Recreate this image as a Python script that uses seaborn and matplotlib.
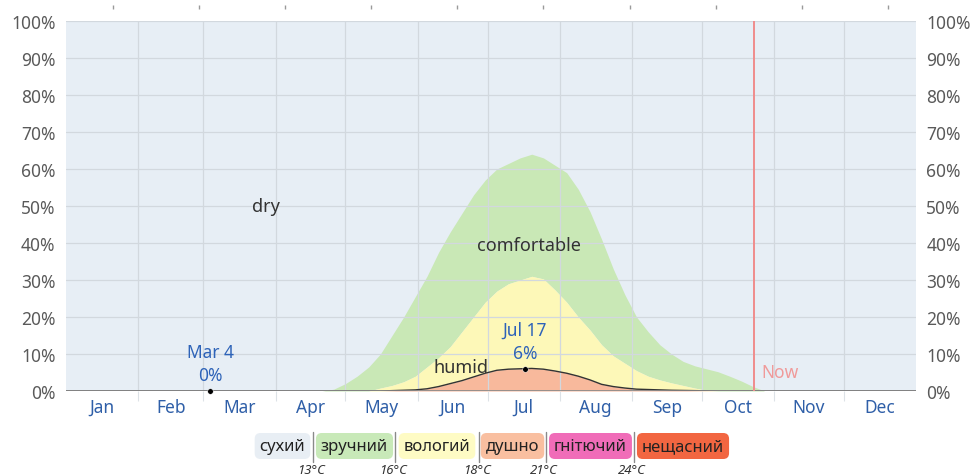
# Humidity comfort levels through the year (stacked areas) with a coloured legend strip

import numpy as np
import pandas as pd
import seaborn as sns
import matplotlib.pyplot as plt
from matplotlib.lines import Line2D


# day of year (0 = Jan 1) and the cumulative band tops, in %
days = [0, 100, 105, 110, 115, 120, 125, 130, 135, 140, 145, 150, 155, 160, 165, 170,
        175, 180, 185, 190, 195, 200, 205, 210, 215, 220, 225, 230, 235, 240, 245, 250,
        255, 260, 265, 270, 275, 280, 285, 290, 295, 300, 305, 365]
# top of the green band (comfortable + humid + muggy)
pct_not_dry = [0, 0, 0, 0, 0.5, 2, 4, 6.5, 10, 15, 20, 25.5, 31, 37.5, 43, 48,
               53, 57, 60, 61.5, 63, 64, 63, 61, 59, 54.5, 48.5, 41, 33, 26, 20, 16,
               12.5, 10, 8, 6.8, 6, 5.2, 4, 2.7, 1.2, 0, 0, 0]
# top of the yellow band (humid + muggy)
pct_humid_or_muggy = [0, 0, 0, 0, 0, 0, 0, 0, 0.8, 1.5, 2.5, 4, 6.5, 9, 12, 16,
                      20, 24, 27, 29, 30, 31, 30.3, 27.3, 24, 20, 16.5, 12.5, 9.5, 7.5, 5.5, 4,
                      3, 2.2, 1.5, 0.8, 0.2, 0, 0, 0, 0, 0, 0, 0]
# muggy or worse (orange band, black line)
pct_muggy = [0, 0, 0, 0, 0, 0, 0, 0, 0, 0.1, 0.2, 0.3, 0.6, 1.2, 2.0, 2.8,
             3.8, 4.8, 5.6, 5.9, 6.0, 6.1, 5.9, 5.4, 4.8, 4.0, 3.0, 1.8, 1.2, 0.8, 0.5, 0.4,
             0.3, 0.2, 0.15, 0.1, 0.05, 0, 0, 0, 0, 0, 0, 0]

month_names = ["Jan", "Feb", "Mar", "Apr", "May", "Jun", "Jul", "Aug", "Sep", "Oct", "Nov", "Dec"]
month_starts = [0, 31, 59, 90, 120, 151, 181, 212, 243, 273, 304, 334, 365]
top_ticks = [20, 57, 94, 131, 168, 205, 242, 279, 316, 353]

hl_days = [62, 197]
hl_vals = [0, 6]
hl_labels = ["Mar 4", "Jul 17"]

now_day = 295.5

legend_names = ["сухий", "зручний", "вологий", "душно", "гнітючий", "нещасний"]
legend_colors = ["#e8eef4", "#c8e9b8", "#fefbc4", "#f9bfa0", "#f06cb8", "#f26641"]
legend_temps = ["13°C", "16°C", "18°C", "21°C", "24°C"]

df = pd.DataFrame({"day": days, "not_dry": pct_not_dry,
                   "humid": pct_humid_or_muggy, "muggy": pct_muggy})

sns.set_style("white")
plt.rcParams['font.family'] = ['Noto Sans', 'DejaVu Sans']

W, H = 976, 477
fig = plt.figure(figsize=(W / 100, H / 100), dpi=100)
ax = fig.add_axes([66 / W, 1 - 392 / H, (916 - 66) / W, (392 - 22) / H])
ax.set_facecolor("#e7eef5")

# stacked bands
ax.fill_between(df.day, df.humid, df.not_dry, color="#c9e8b6", lw=0, zorder=1)
ax.fill_between(df.day, df.muggy, df.humid, color="#fdf8b8", lw=0, zorder=1)
ax.fill_between(df.day, 0, df.muggy, color="#f8b99c", lw=0, zorder=1)
sns.lineplot(data=df, x="day", y="muggy", color="#333333", lw=1, ax=ax, zorder=3)

ax.set_xlim(0, 365)
ax.set_ylim(0, 100)
ax.set_xlabel("")
ax.set_ylabel("")
for s in ax.spines.values():
    s.set_visible(False)
ax.axhline(0, color="#888888", lw=1.2, zorder=4)

# y axis on both sides
yt = list(range(0, 101, 10))
ax.set_yticks(yt)
ax.set_yticklabels([f"{v}%" for v in yt])
ax.tick_params(axis="y", left=False, right=False, labelleft=True, labelright=True,
               labelsize=12.5, labelcolor="#5a5a5a", pad=4)

# month boundaries as short ticks, month names centred
ax.set_xticks(month_starts[1:-1])
ax.set_xticklabels([])
ax.set_xticks([(a + b) / 2 for a, b in zip(month_starts[:-1], month_starts[1:])], minor=True)
ax.set_xticklabels(month_names, minor=True)
ax.tick_params(axis="x", which="major", direction="out", length=7, color="#dde2e7", width=0.8)
ax.tick_params(axis="x", which="minor", length=0, labelsize=12.5, labelcolor="#2f5fa8", pad=5)

ax.grid(True, which="major", color="#d2d8de", lw=0.9)
ax.set_axisbelow(False)

# small marks above the plot
ax2 = ax.twiny()
ax2.set_xlim(0, 365)
ax2.set_xticks(top_ticks)
ax2.set_xticklabels([])
for s in ax2.spines.values():
    s.set_visible(False)
ax2.spines["top"].set_position(("outward", 9))
ax2.tick_params(axis="x", length=3, width=1, color="#9a9a9a")

# band labels
ax.text(86, 50, "dry", ha="center", va="center", fontsize=13, color="#333333")
ax.text(199, 39.5, "comfortable", ha="center", va="center", fontsize=13, color="#333333")
ax.text(169.5, 6.5, "humid", ha="center", va="center", fontsize=13, color="#333333")

# highlighted points
sns.scatterplot(x=hl_days, y=hl_vals, color="black", s=16, ax=ax, zorder=6, clip_on=False)
for d, v, lab in zip(hl_days, hl_vals, hl_labels):
    ax.annotate(f"{lab}\n{v}%", (d, v), xytext=(0, 5), textcoords="offset points",
                ha="center", va="bottom", fontsize=12.5, color="#2e63b8", linespacing=1.35)

# "now" marker
ax.axvline(now_day, color="#f08c8c", lw=1.4, zorder=4)
ax.text(now_day + 3, 5, "Now", ha="left", va="center", fontsize=12.5, color="#f09a9a")

# legend strip
def fx(px):
    return px / W


def fy(py):
    return 1 - py / H


legend_x = [282.5, 354.5, 437, 512.5, 590.5, 683]
sep_x = [313, 395, 479, 546, 634]
for x, name, col in zip(legend_x, legend_names, legend_colors):
    fig.text(fx(x), fy(447), name, ha="center", va="center", fontsize=12, color="#222222",
             bbox=dict(boxstyle="round,pad=0.3,rounding_size=0.35", fc=col, ec="none"))
for x, t in zip(sep_x, legend_temps):
    fig.add_artist(Line2D([fx(x), fx(x)], [fy(433), fy(463)], color="#8a8a8a", lw=1,
                          transform=fig.transFigure))
    fig.text(fx(x - 2), fy(471), t, ha="center", va="center", fontsize=9.5,
             style="italic", color="#333333")

fig.savefig("out.png", dpi=100)
